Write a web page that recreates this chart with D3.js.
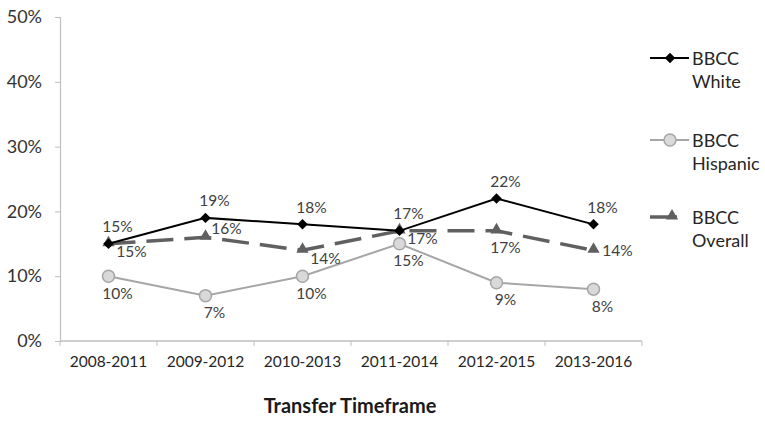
<!DOCTYPE html>
<html>
<head>
<meta charset="utf-8">
<script src="https://cdn.jsdelivr.net/npm/d3@7"></script>
<style>
  body { margin: 0; background: #fff; }
  svg { display: block; font-family: Lato, "Open Sans", sans-serif; }
</style>
</head>
<body>
<div id="chart"></div>
<script>
// data
const timeframes = ["2008-2011", "2009-2012", "2010-2013", "2011-2014", "2012-2015", "2013-2016"];
const whiteRates = [15, 19, 18, 17, 22, 18];
const hispanicRates = [10, 7, 10, 15, 9, 8];
const overallRates = [15, 16, 14, 17, 17, 14];
const yTicks = [0, 10, 20, 30, 40, 50];

// where each data label sits relative to its point
const labelSpots = {
  white: ["t", "t", "t", "t", "t", "t"],
  hispanic: ["b", "b", "b", "b", "b", "b"],
  overall: ["br", "tr", "br", "br", "b", "r"]
};
const spotOffset = {
  t: [9, -17], b: [9, 17], r: [24, 0], br: [23, 8], tr: [21, -9]
};

const width = 765, height = 421;
const textColor = "#404040";
const axisColor = "#bfbfbf";

const svg = d3.select("#chart").append("svg")
  .attr("width", width)
  .attr("height", height);

const x = d3.scaleBand()
  .domain(timeframes)
  .range([60, 642]);

const y = d3.scaleLinear()
  .domain([0, 50])
  .range([341, 17]);

// Y axis
const yAxis = svg.append("g")
  .attr("transform", "translate(60,0)")
  .call(d3.axisLeft(y).tickValues(yTicks).tickFormat(d => d + "%").tickSize(5).tickPadding(13));
yAxis.select(".domain").attr("stroke", axisColor).attr("stroke-width", 1.2);
yAxis.selectAll(".tick line").attr("stroke", axisColor);
yAxis.selectAll(".tick text").attr("font-size", 18).attr("fill", "#333").attr("font-family", "Lato");

// X axis: ticks sit between categories like Excel
const xAxis = svg.append("g")
  .attr("transform", "translate(0,341)");
xAxis.append("line")
  .attr("x1", 60).attr("x2", 642)
  .attr("stroke", axisColor).attr("stroke-width", 1.5);
const bounds = timeframes.map(d => x(d)).concat([x.range()[1]]);
xAxis.selectAll(".xtick")
  .data(bounds)
  .enter().append("line")
  .attr("x1", d => d).attr("x2", d => d)
  .attr("y1", 0).attr("y2", 5)
  .attr("stroke", axisColor);
xAxis.selectAll(".xlabel")
  .data(timeframes)
  .enter().append("text")
  .attr("x", d => x(d) + x.bandwidth() / 2)
  .attr("y", 26)
  .attr("text-anchor", "middle")
  .attr("font-size", 15.5)
  .attr("fill", "#262626")
  .text(d => d);

svg.append("text")
  .attr("x", 350)
  .attr("y", 413)
  .attr("text-anchor", "middle")
  .attr("font-size", 20)
  .attr("font-weight", "bold")
  .attr("fill", "#1a1a1a")
  .text("Transfer Timeframe");

const cx = (d, i) => x(timeframes[i]) + x.bandwidth() / 2;
const line = d3.line()
  .x((d, i) => cx(d, i))
  .y(d => y(d));

const series = [
  { key: "white", name: ["BBCC", "White"], values: whiteRates, color: "#000", width: 2, dash: null, marker: "diamond" },
  { key: "hispanic", name: ["BBCC", "Hispanic"], values: hispanicRates, color: "#a6a6a6", width: 2, dash: null, marker: "circle" },
  { key: "overall", name: ["BBCC", "Overall"], values: overallRates, color: "#606060", width: 3.5, dash: "27,11", marker: "triangle" }
];

function drawMarker(g, s, px, py) {
  if (s.marker === "diamond") {
    g.append("path")
      .attr("d", d3.symbol().type(d3.symbolDiamond2).size(70)())
      .attr("transform", `translate(${px},${py})`)
      .attr("fill", "#000");
  } else if (s.marker === "circle") {
    g.append("circle")
      .attr("cx", px).attr("cy", py).attr("r", 6)
      .attr("fill", "#d9d9d9").attr("stroke", "#a6a6a6").attr("stroke-width", 1.5);
  } else {
    g.append("path")
      .attr("d", d3.symbol().type(d3.symbolTriangle).size(65)())
      .attr("transform", `translate(${px},${py - 1})`)
      .attr("fill", s.color);
  }
}

// draw overall first, then hispanic, then white on top
[series[2], series[1], series[0]].forEach(s => {
  const g = svg.append("g");
  g.append("path")
    .datum(s.values)
    .attr("d", line)
    .attr("fill", "none")
    .attr("stroke", s.color)
    .attr("stroke-width", s.width)
    .attr("stroke-dasharray", s.dash);
  s.values.forEach((v, i) => drawMarker(g, s, cx(v, i), y(v)));
});

// data labels
series.forEach(s => {
  svg.append("g").selectAll("text")
    .data(s.values)
    .enter().append("text")
    .attr("x", (d, i) => cx(d, i) + spotOffset[labelSpots[s.key][i]][0])
    .attr("y", (d, i) => y(d) + spotOffset[labelSpots[s.key][i]][1])
    .attr("dy", "0.35em")
    .attr("text-anchor", "middle")
    .attr("font-size", 15.5)
    .attr("fill", textColor)
    .text(d => d + "%");
});

// legend
const legendY = [58, 140, 217];
series.forEach((s, i) => {
  const g = svg.append("g").attr("transform", `translate(0,${legendY[i]})`);
  if (s.key === "overall") {
    g.append("line").attr("x1", 650).attr("x2", 677)
      .attr("stroke", s.color).attr("stroke-width", s.width);
    drawMarker(g, s, 672, 0);
  } else {
    g.append("line").attr("x1", 650).attr("x2", 689)
      .attr("stroke", s.color).attr("stroke-width", s.width);
    drawMarker(g, s, 670, 0);
  }
  g.append("text")
    .attr("x", 692).attr("y", 7)
    .attr("font-size", 18)
    .attr("fill", "#262626")
    .selectAll("tspan")
    .data(s.name)
    .enter().append("tspan")
    .attr("x", 692)
    .attr("dy", (d, j) => j === 0 ? 0 : 23)
    .text(d => d);
});
</script>
</body>
</html>
